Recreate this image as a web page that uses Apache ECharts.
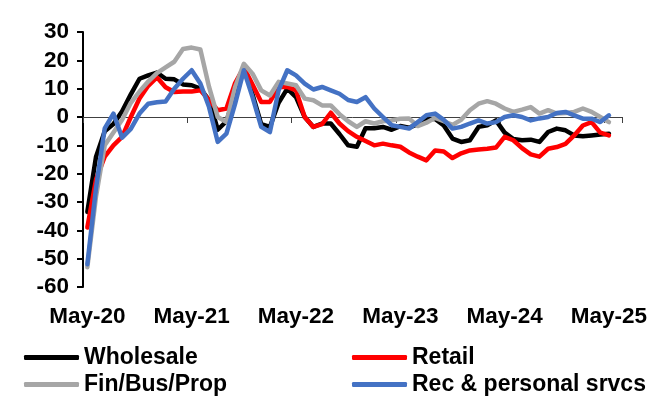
<!DOCTYPE html>
<html>
<head>
<meta charset="utf-8">
<script src="https://cdn.jsdelivr.net/npm/echarts@6/dist/echarts.min.js"></script>
<style>
  html, body { margin: 0; padding: 0; background: #ffffff; }
  #chart { width: 664px; height: 403px; }
</style>
</head>
<body>
<div id="chart"></div>
<script>
// Monthly index readings, May-20 onward
const months = [
  'May-20','Jun-20','Jul-20','Aug-20','Sep-20','Oct-20','Nov-20','Dec-20',
  'Jan-21','Feb-21','Mar-21','Apr-21','May-21','Jun-21','Jul-21','Aug-21','Sep-21','Oct-21','Nov-21','Dec-21',
  'Jan-22','Feb-22','Mar-22','Apr-22','May-22','Jun-22','Jul-22','Aug-22','Sep-22','Oct-22','Nov-22','Dec-22',
  'Jan-23','Feb-23','Mar-23','Apr-23','May-23','Jun-23','Jul-23','Aug-23','Sep-23','Oct-23','Nov-23','Dec-23',
  'Jan-24','Feb-24','Mar-24','Apr-24','May-24','Jun-24','Jul-24','Aug-24','Sep-24','Oct-24','Nov-24','Dec-24',
  'Jan-25','Feb-25','Mar-25','Apr-25','May-25','Jun-25'
];

const wholesale = [
  -33.5, -14, -5, -2.5, 2, 8, 13.5, 14.7, 15.7, 13.5, 13.3, 11.5,
  11.2, 10, 6, -4.5, -1.5, 8, 17.5, 8, -2.5, -3.5, 5, 10,
  7, 0, -3.5, -2.3, -2.3, -6, -10, -10.5, -4, -4, -3.5, -4.5,
  -3.2, -3.8, -2.5, -0.7, -0.7, -3, -7.6, -8.8, -8.2, -3.5, -2.9, -1.2,
  -5.5, -7.8, -8.2, -8, -8.8, -5.3, -4.1, -4.7, -6.5, -6.8, -6.5, -6.2,
  -5.9
];

const retail = [
  -39, -22, -14, -10, -7, 0, 6.5, 11, 14, 10.5, 8.8, 9,
  9, 9.4, 6, 2.4, 3, 12, 17.5, 11.5, 5.3, 5.3, 10.6, 10.6,
  9.4, 0, -3.5, -2.5, 1.5, -2.3, -5, -7, -8.5, -10, -9.4, -10,
  -10.5, -12.5, -14, -15.3, -11.8, -12.2, -14.5, -12.8, -11.8, -11.5, -11.2, -10.8,
  -7, -8.2, -11, -13.2, -14, -11.2, -10.6, -9.5, -6.5, -3, -1.8, -5.5,
  -6.5
];

const finBusProp = [
  -53, -28, -10, -5.5, -1, 5, 9, 12.5, 15.5, 17.5, 19.5, 24,
  24.5, 23.8, 10.6, 0, -1.8, 10.6, 18.8, 15.3, 9.4, 7.6, 12.4, 11.8,
  11.2, 6.5, 5.9, 4.1, 4.1, 1, -1.5, -3.5, -1.5, -2.3, -1.5, -1.2,
  -0.6, -0.5, -3.2, -2, -0.3, -1.5, -2.8, -1, 2.4, 4.7, 5.6, 4.7,
  3, 1.8, 2.6, 3.5, 1.2, 2.4, 1.2, 1.4, 1.8, 3, 1.8, 0,
  -1.8
];

const recPersonal = [
  -52, -25, -4, 1.2, -7.3, -4.2, 1.2, 4.7, 5.2, 5.5, 10, 13.5,
  16.5, 11.8, 3.5, -8.8, -5.9, 4.7, 16.5, 7, -3.5, -5.3, 9.4, 16.5,
  14.7, 11.8, 9.7, 10.6, 9.4, 8.2, 6, 5.3, 7, 3, 0, -2.9,
  -3.5, -4.1, -1.8, 0.6, 1.2, -1, -4.1, -3.5, -2.3, -1.2, -2.3, -1.8,
  0, 0.6, 0, -1.2, -0.5, 0, 1.4, 1.8, 0.6, -0.6, -0.6, -1.8,
  0.6
];

const yTicks = { min: -60, max: 30, step: 10 };

const seriesDefs = [
  { name: 'Wholesale', data: wholesale, color: '#000000' },
  { name: 'Retail', data: retail, color: '#ff0000' },
  { name: 'Fin/Bus/Prop', data: finBusProp, color: '#a6a6a6' },
  { name: 'Rec & personal srvcs', data: recPersonal, color: '#4472c4' }
];

const FONT = '"Liberation Sans", Arial, sans-serif';

const chart = echarts.init(document.getElementById('chart'), null, { renderer: 'canvas' });

// one legend block per entry so the two columns sit exactly where wanted
function legendAt(name, left, top) {
  return {
    data: [name],
    left: left,
    top: top,
    padding: 0,
    itemWidth: 55,
    itemHeight: 5,
    itemGap: 0,
    icon: 'roundRect',
    selectedMode: false,
    textStyle: { fontFamily: FONT, fontWeight: 'bold', fontSize: 23, color: '#000' }
  };
}

chart.setOption({
  animation: false,
  backgroundColor: '#ffffff',
  grid: { left: 83, right: 42, top: 32, bottom: 116, containLabel: false },
  legend: [
    legendAt('Wholesale', 24, 346),
    legendAt('Retail', 352, 346),
    legendAt('Fin/Bus/Prop', 24, 373),
    legendAt('Rec & personal srvcs', 352, 373)
  ],
  xAxis: [
    {
      type: 'category',
      data: months,
      position: 'bottom',
      boundaryGap: true,
      axisLine: { onZero: true, lineStyle: { color: '#404040', width: 1 } },
      axisTick: { show: true, interval: 11, length: 6, lineStyle: { color: '#404040', width: 1 } },
      axisLabel: { show: false },
      splitLine: { show: false }
    },
    {
      type: 'category',
      data: months,
      position: 'bottom',
      boundaryGap: true,
      axisLine: { show: false, onZero: false },
      axisTick: { show: false },
      axisLabel: {
        show: true,
        interval: 11,
        margin: 18,
        fontFamily: FONT,
        fontWeight: 'bold',
        fontSize: 22.5,
        color: '#000'
      },
      splitLine: { show: false }
    }
  ],
  yAxis: {
    type: 'value',
    min: yTicks.min,
    max: yTicks.max,
    interval: yTicks.step,
    axisLine: { show: true, onZero: false, lineStyle: { color: '#000', width: 2 } },
    axisTick: { show: true, length: 6, lineStyle: { color: '#000', width: 2 } },
    axisLabel: {
      margin: 14,
      fontFamily: FONT,
      fontWeight: 'bold',
      fontSize: 22.5,
      color: '#000'
    },
    splitLine: { show: false }
  },
  series: seriesDefs.map(s => ({
    name: s.name,
    type: 'line',
    xAxisIndex: 0,
    data: s.data,
    symbol: 'none',
    smooth: false,
    color: s.color,
    lineStyle: { color: s.color, width: 4.5, cap: 'round', join: 'round' },
    itemStyle: { color: s.color }
  }))
});
</script>
</body>
</html>
